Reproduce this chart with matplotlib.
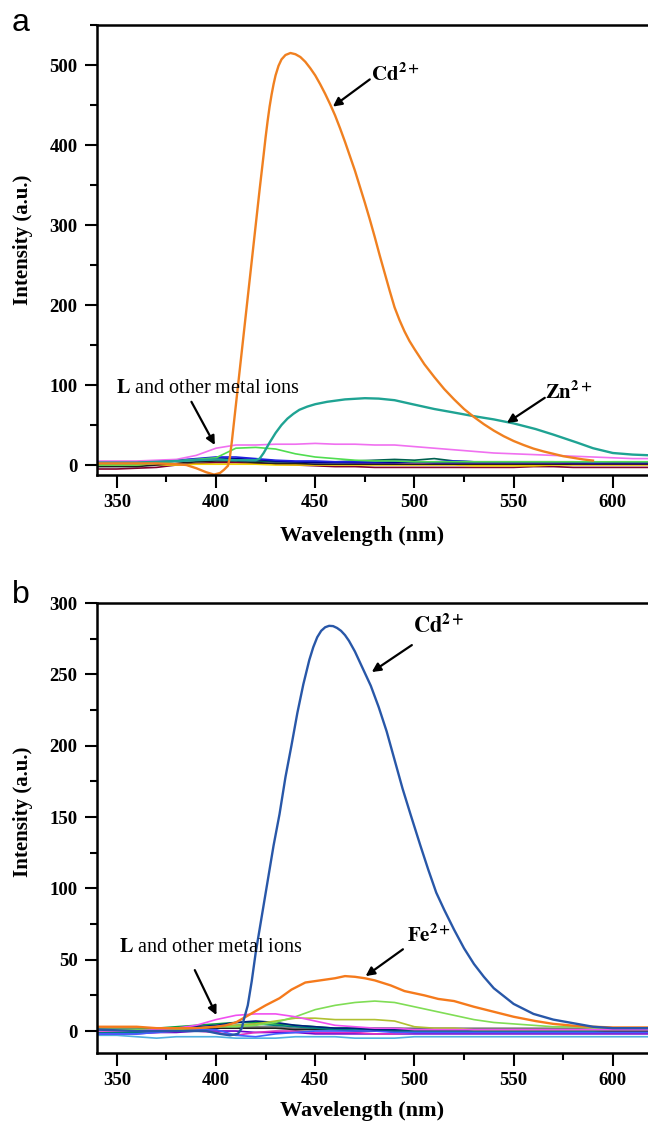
import matplotlib
matplotlib.use('Agg')
import matplotlib.pyplot as plt
from matplotlib.ticker import MultipleLocator

plt.rcParams['font.family'] = ['Liberation Serif', 'DejaVu Serif']
plt.rcParams['font.weight'] = 'bold'
plt.rcParams['mathtext.fontset'] = 'stix'

# common wavelength grid for the weak baseline spectra (nm)
wl = [340, 350, 360, 370, 380, 390, 400, 410, 420, 430, 440, 450, 460, 470, 480,
      490, 500, 510, 520, 530, 540, 550, 560, 570, 580, 590, 600, 610, 620]

# ---- panel a ----
cd_a_x = [340, 350, 360, 370, 380, 385, 390, 395, 399, 402, 404, 406, 407, 408, 410,
          412, 414, 416, 418, 420, 422, 424, 425, 426, 427, 428, 429, 430, 431.5, 433,
          435, 437.5, 440, 442.5, 445, 447.5, 450, 452.5, 455, 457.5, 460, 462.5, 465, 467.5, 470,
          472.5, 475, 477.5, 480, 482.5, 485, 487.5, 490, 492.5, 495, 497.5, 500, 505, 510,
          515, 520, 525, 530, 535, 540, 545, 550, 555, 560, 565, 570, 575, 580, 585, 590]
cd_a_y = [2, 2, 2, 2, 1, 0, -4, -9, -12, -10, -6, -1, 10, 30, 75,
          120, 165, 210, 255, 300, 345, 388, 410, 430, 448, 463, 476, 487, 499, 507,
          512.5, 515, 513.5, 510, 504, 496, 487, 476, 464, 451, 437, 421, 404, 386, 368,
          348, 328, 307, 285, 262, 240, 218, 197, 181, 167, 155, 145, 126, 110,
          95, 82, 70, 60, 51, 43, 36, 30, 25, 20.5, 17, 14, 11, 9, 7, 5.5]

zn_a_x = [340, 350, 360, 370, 380, 390, 400, 410, 415, 420, 422, 424, 427, 430, 433,
          436, 439, 442, 446, 450, 456, 465, 475, 482, 490, 499, 510, 519, 530, 540,
          550, 561, 570, 582, 590, 600, 610, 620]
zn_a_y = [3, 3, 3, 4, 5, 6, 7, 6, 6, 6, 8, 15, 28, 40, 50,
          58, 64, 69, 73, 76, 79, 82, 83.5, 83, 81, 76, 70, 66, 61, 57,
          52, 45, 38, 28, 21, 15, 13, 12]

mag_a = [5, 5, 5, 6, 7, 12, 21, 25, 25, 26, 26, 27, 26, 26, 25, 25, 23, 21, 19, 17, 15, 14, 13, 12, 11, 10, 9, 8, 8]
grn_a = [0, 0, 0, 2, 5, 7, 9, 21, 22, 20, 14, 10, 8, 6, 5, 5, 4, 4, 4, 4, 4, 4, 4, 4, 4, 4, 4, 4, 4]
blu_a = [3, 3, 3, 4, 6, 8, 10, 10, 8, 6, 5, 5, 4, 4, 4, 5, 4, 4, 5, 4, 4, 4, 4, 4, 4, 3, 4, 4, 4]
nav_a = [2, 2, 2, 3, 5, 7, 9, 8, 7, 5, 4, 3, 3, 3, 3, 3, 4, 3, 3, 3, 3, 3, 3, 3, 3, 3, 3, 3, 3]
blk_a = [-2, -2, -2, 0, 2, 4, 5, 5, 3, 2, 2, 1, 1, 1, 1, 1, 1, 1, 1, 1, 1, 1, 1, 1, 1, 1, 1, 1, 1]
mar_a = [-5, -5, -4, -3, 0, 2, 3, 3, 2, 1, 0, -1, -2, -2, -3, -3, -3, -3, -3, -3, -3, -3, -2, -2, -3, -3, -3, -3, -3]
yel_a = [0, 0, 0, 0, 0, 1, 1, 1, 1, 0, 0, 0, 0, 0, 0, 0, 0, 0, 0, -1, -1, -1, -1, 0, 0, 0, 0, 0, 0]
pur_a = [4, 4, 4, 5, 6, 7, 7, 6, 5, 4, 4, 4, 4, 3, 3, 3, 3, 3, 3, 3, 3, 3, 3, 3, 2, 2, 2, 2, 2]
dkg_a = [2, 2, 2, 3, 5, 6, 7, 6, 5, 4, 4, 4, 4, 5, 6, 7, 6, 8, 5, 4, 4, 4, 4, 4, 3, 3, 3, 3, 3]

base_a = [(mar_a, '#800030'), (yel_a, '#f0d000'), (blk_a, '#202020'), (pur_a, '#8000a0'),
          (dkg_a, '#006050'), (nav_a, '#000090'), (blu_a, '#2020e0'), (grn_a, '#50dd50'),
          (mag_a, '#f070f0')]

# ---- panel b ----
cd_b_x = [340, 360, 380, 395, 402, 407, 411, 413, 414, 416, 418, 420, 423, 426, 429,
          432, 435, 438, 441, 444, 447, 449, 451, 453, 455, 457, 459, 461, 463, 465,
          467, 470, 474, 478, 482, 486, 490, 494, 498, 503, 507, 511, 515, 520, 525,
          530, 535, 540, 550, 560, 570, 582, 590, 600, 610, 620]
cd_b_y = [1, 0, 0, 0, -2, -3, -2, 2, 8, 18, 35, 55, 80, 105, 130,
          152, 178, 200, 223, 243, 260, 269, 276, 280.5, 283, 284, 283.8, 282.5, 280.5, 277.5,
          273.5, 266, 254, 242, 227, 210, 190, 170, 152, 130, 113, 97, 85, 71, 58,
          47, 38, 30, 19, 12, 8, 5, 3, 2, 2, 2]

fe_b_x = [340, 350, 360, 370, 380, 390, 400, 405, 410, 415, 420, 425, 432, 438, 445,
          450, 455, 460, 465, 470, 475, 480, 488, 495, 505, 512, 520, 530, 540, 550,
          561, 570, 582, 590, 600, 610, 620]
fe_b_y = [3, 3, 3, 2, 2, 2, 3, 4, 6, 10, 14, 18, 23, 29, 34,
          35, 36, 37, 38.5, 38, 37, 35.5, 32, 28, 25, 22.5, 21, 17, 13.5, 10,
          7, 5, 3.5, 3, 2.5, 2.5, 2.5]

lgr_b = [1, 1, 1, 1, 2, 2, 3, 3, 4, 6, 10, 15, 18, 20, 21, 20, 17, 14, 11, 8, 6, 5, 4, 3, 3, 2, 2, 2, 2]
olv_b = [0, 0, 0, 1, 1, 2, 3, 4, 5, 7, 9, 9, 8, 8, 8, 7, 3, 2, 2, 1, 1, 1, 1, 1, 1, 1, 1, 1, 1]
mag_b = [0, 0, 0, 1, 2, 4, 8, 11, 12, 12, 10, 7, 4, 3, 2, 2, 1, 1, 1, 1, 1, 1, 1, 1, 1, 1, 1, 1, 1]
nav_b = [0, 0, 0, 1, 2, 3, 4, 6, 7, 6, 4, 3, 2, 2, 1, 1, 1, 1, 1, 1, 1, 1, 1, 1, 1, 1, 1, 1, 1]
dgr_b = [1, 1, 1, 2, 3, 4, 5, 6, 6, 5, 4, 3, 2, 2, 2, 2, 1, 1, 1, 1, 1, 1, 1, 1, 1, 1, 1, 2, 2]
tea_b = [-1, -1, -1, 0, 1, 2, 3, 4, 5, 4, 3, 2, 1, 1, 1, 0, 0, 0, 0, 0, 0, 0, 0, 0, 0, 0, 1, 1, 1]
blk_b = [0, 0, 0, 0, 1, 1, 2, 2, 2, 2, 1, 1, 1, 0, 0, 0, 0, 0, 0, 0, 0, 0, 0, 0, 0, 0, 0, 0, 0]
pur_b = [-2, -2, -2, -1, -1, 0, 0, 0, -1, -1, -1, -2, -2, -2, -2, -2, -2, -2, -2, -2, -2, -2, -2, -2, -2, -2, -2, -2, -2]
cya_b = [-3, -3, -4, -5, -4, -4, -4, -5, -5, -5, -4, -4, -4, -5, -5, -5, -4, -4, -4, -4, -4, -4, -4, -4, -4, -4, -4, -4, -4]
pnk_b = [-1, -1, -1, -1, 0, 0, -1, -3, -1, 0, 0, -1, -1, -1, -2, -2, -1, -1, -1, -1, -1, -1, -1, -1, -1, -1, -1, -1, -1]
gry_b = [2, 2, 2, 1, 1, 2, 3, 3, 3, 3, 2, 2, 2, 2, 2, 2, 2, 2, 2, 2, 2, 2, 2, 2, 2, 2, 2, 2, 2]
cfb_b = [-2, -2, -2, -1, 0, 1, 1, -3, -4, -2, -1, 0, 0, 0, 0, -1, -1, -1, -1, -1, -1, -1, -1, -1, -1, -1, -1, -1, -1]

base_b = [(cya_b, '#50b0e0'), (pur_b, '#7000d0'), (pnk_b, '#e030c0'), (gry_b, '#808080'),
          (blk_b, '#202020'), (tea_b, '#008080'), (cfb_b, '#4060ff'), (dgr_b, '#10a040'),
          (nav_b, '#002080'), (olv_b, '#b0c030'), (lgr_b, '#80dd55'), (mag_b, '#f050f0')]

W, H = 648, 1121
fig = plt.figure(figsize=(W / 100, H / 100), dpi=100)


def setup(ax, ymax, ymin, ymaj, ymin_step):
    ax.set_xlim(340, 620)
    ax.set_ylim(ymin, ymax)
    ax.xaxis.set_major_locator(MultipleLocator(50))
    ax.xaxis.set_minor_locator(MultipleLocator(25))
    ax.yaxis.set_major_locator(MultipleLocator(ymaj))
    ax.yaxis.set_minor_locator(MultipleLocator(ymin_step))
    ax.tick_params(which='major', direction='out', length=9, width=1.5,
                   labelsize=13.5, pad=5)
    ax.tick_params(which='minor', direction='out', length=5, width=1.5)
    for s in ax.spines.values():
        s.set_linewidth(1.8)


# panel a
ax1 = fig.add_axes([97 / W, 1 - 475 / H, 555.5 / W, 450 / H])
for vals, c in base_a:
    ax1.plot(wl, vals, color=c, lw=1.2)
ax1.plot(zn_a_x, zn_a_y, color='#1fa393', lw=1.7)
ax1.plot(cd_a_x, cd_a_y, color='#f08020', lw=1.7)
setup(ax1, 550, -12.5, 100, 50)

arrow = dict(arrowstyle='-|>', color='black', lw=1.6, mutation_scale=13,
             shrinkA=0, shrinkB=0)
ax1.annotate('', xy=(458.9, 448), xytext=(477.5, 482), arrowprops=arrow)
ax1.text(478, 480, r'$\mathbf{Cd}^{\mathbf{2+}}$', fontsize=15, va='baseline')
ax1.annotate('', xy=(546.6, 52.6), xytext=(565.7, 84), arrowprops=arrow)
ax1.text(566, 82.6, r'$\mathbf{Zn}^{\mathbf{2+}}$', fontsize=15, va='baseline')
ax1.annotate('', xy=(399.4, 25), xytext=(387.6, 79), arrowprops=arrow)
ax1.text(349.5, 90, r'$\mathbf{L}$ and other metal ions', fontsize=14.5,
         fontweight='normal', va='baseline')

# panel b
ax2 = fig.add_axes([97 / W, 1 - 1053 / H, 555.5 / W, 450 / H])
for vals, c in base_b:
    ax2.plot(wl, vals, color=c, lw=1.2)
ax2.plot(fe_b_x, fe_b_y, color='#f57a1c', lw=1.7)
ax2.plot(cd_b_x, cd_b_y, color='#2857a8', lw=1.7)
setup(ax2, 300, -15.4, 50, 25)

ax2.annotate('', xy=(478.5, 251.6), xytext=(498.7, 270.5), arrowprops=arrow)
ax2.text(499.2, 278.9, r'$\mathbf{Cd}^{\mathbf{2+}}$', fontsize=16, va='baseline')
ax2.annotate('', xy=(475.4, 38.5), xytext=(494.2, 57.3), arrowprops=arrow)
ax2.text(496.2, 62.4, r'$\mathbf{Fe}^{\mathbf{2+}}$', fontsize=15, va='baseline')
ax2.annotate('', xy=(400.2, 11.2), xytext=(389.3, 42.7), arrowprops=arrow)
ax2.text(351, 55.5, r'$\mathbf{L}$ and other metal ions', fontsize=14.5,
         fontweight='normal', va='baseline')

# axis titles and panel letters
for yc in (240, 812):
    fig.text(23 / W, 1 - yc / H, 'Intensity (a.u.)', rotation=90, fontsize=15,
             ha='center', va='center')
fig.text(362 / W, 1 - 536 / H, 'Wavelength (nm)', fontsize=16, ha='center', va='center')
fig.text(362 / W, 1 - 1101 / H, 'Wavelength (nm)', fontsize=16, ha='center', va='top')
fig.text(12 / W, 1 - 31 / H, 'a', fontsize=23, family='Liberation Sans',
         fontweight='normal', va='baseline')
fig.text(12 / W, 1 - 603 / H, 'b', fontsize=23, family='Liberation Sans',
         fontweight='normal', va='baseline')

fig.savefig('out.png', dpi=100)
